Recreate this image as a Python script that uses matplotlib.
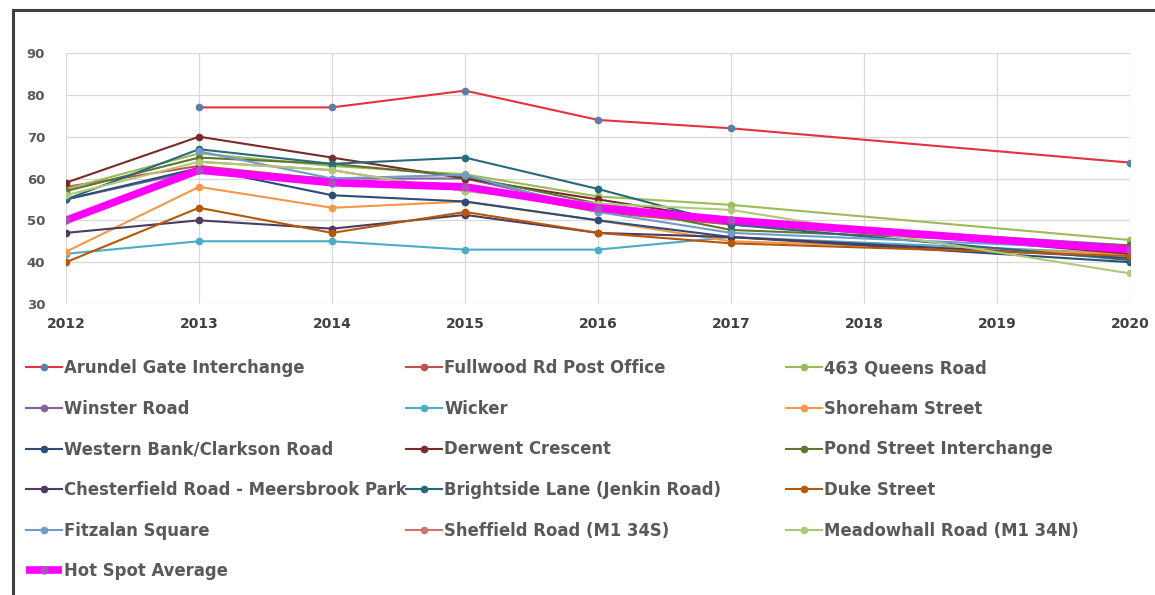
import numpy as np
import matplotlib
matplotlib.use("Agg")
import matplotlib.pyplot as plt
from matplotlib.patches import Rectangle

plt.rcParams['font.family'] = ['DejaVu Sans']

years = [2012, 2013, 2014, 2015, 2016, 2017, 2020]
nan = np.nan

# series values (2018 and 2019 have no readings)
arundel = [nan, 77, 77, 81, 74, 72, 63.8]
fullwood = [58, 63, 59.7, 58, 52, 49, 43]
queens = [57.5, 66, 63, 61, 55.7, 53.7, 45.3]
winster = [55, 62, 60, 60, 53, 50, 44]
wicker = [42, 45, 45, 43, 43, 46, 42]
shoreham = [42.5, 58, 53, 54.5, 50, 45, 42]
western_bank = [55, 62.5, 56, 54.5, 50, 46, 40]
derwent = [59, 70, 65, 60, 55, 50, 42]
pond_street = [57, 65, 63.5, 60.5, 54, 47.7, 44]
chesterfield = [47, 50, 48, 51.3, 47, 46, 41]
brightside = [55, 67, 63.5, 65, 57.5, 49, 40.5]
duke = [40, 53, 47, 52, 47, 44.5, 41.5]
fitzalan = [nan, 66.5, 60, 60.9, 52, 47, 43]
sheffield_rd = [nan, 64, 62, 57, 54, 50, 43]
meadowhall = [56, 64, 62, 57, 54, 52.5, 37.3]
average = [50, 62, 59, 58, 53, 50, 43]

names = ["Arundel Gate Interchange", "Fullwood Rd Post Office", "463 Queens Road",
         "Winster Road", "Wicker", "Shoreham Street",
         "Western Bank/Clarkson Road", "Derwent Crescent", "Pond Street Interchange",
         "Chesterfield Road - Meersbrook Park", "Brightside Lane (Jenkin Road)", "Duke Street",
         "Fitzalan Square", "Sheffield Road (M1 34S)", "Meadowhall Road (M1 34N)"]
series = [arundel, fullwood, queens, winster, wicker, shoreham, western_bank, derwent,
          pond_street, chesterfield, brightside, duke, fitzalan, sheffield_rd, meadowhall]
colors = ['#E5323F', '#C0504D', '#9BBB59', '#8064A2', '#4BACC6', '#F79646',
          '#2C4D75', '#772C2A', '#5F7530', '#4D3B62', '#276A7C', '#B65708',
          '#729ACA', '#CD7371', '#AFC97A']
marker_colors = list(colors)
marker_colors[0] = '#5A7FA8'

W, H = 1155, 595
fig = plt.figure(figsize=(W / 100, H / 100), dpi=100)
ax = fig.add_axes([66 / W, 1 - 304 / H, (1130 - 66) / W, (304 - 53) / H])

handles = []
for vals, name, c, mc in zip(series, names, colors, marker_colors):
    h, = ax.plot(years, vals, color=c, lw=1.5, marker='o', ms=4.5,
                 markerfacecolor=mc, markeredgecolor=mc, label=name)
    handles.append(h)
h, = ax.plot(years, average, color='#FF00FF', lw=5.5, marker='o', ms=5,
             markerfacecolor='#B04FC0', markeredgecolor='#B04FC0',
             label="Hot Spot Average", solid_capstyle='butt')
handles.append(h)

ax.set_xlim(2012, 2020)
ax.set_ylim(30, 90)
ax.set_xticks(range(2012, 2021))
ax.set_yticks(range(30, 91, 10))
ax.grid(True, color='#D9D9D9', lw=0.9)
ax.set_axisbelow(True)
for s in ax.spines.values():
    s.set_visible(False)
ax.tick_params(length=0)
ax.tick_params(axis='x', pad=9, labelsize=10, labelcolor='#404040')
ax.tick_params(axis='y', pad=15, labelsize=9.5, labelcolor='#595959')
for t in ax.get_xticklabels() + ax.get_yticklabels():
    t.set_fontweight('bold')

# three legend columns, filled row by row
col_x = [26, 406, 786]
for ci in range(3):
    hs = handles[ci::3]
    leg = fig.legend(handles=hs, labels=[x.get_label() for x in hs],
                     loc='upper left', bbox_to_anchor=(col_x[ci] / W, 1 - 359 / H),
                     frameon=False, fontsize=11.9, handlelength=2.15,
                     handletextpad=0.15, labelspacing=1.37, borderaxespad=0,
                     borderpad=0)
    for t in leg.get_texts():
        t.set_color('#595959')
        t.set_fontweight('bold')

fig.patches.append(Rectangle((13 / W, -0.02), 1.1, 1 - 10 / H + 0.02,
                             transform=fig.transFigure, fill=False,
                             edgecolor='#404040', lw=2.2))

fig.savefig('out.png', dpi=100)
